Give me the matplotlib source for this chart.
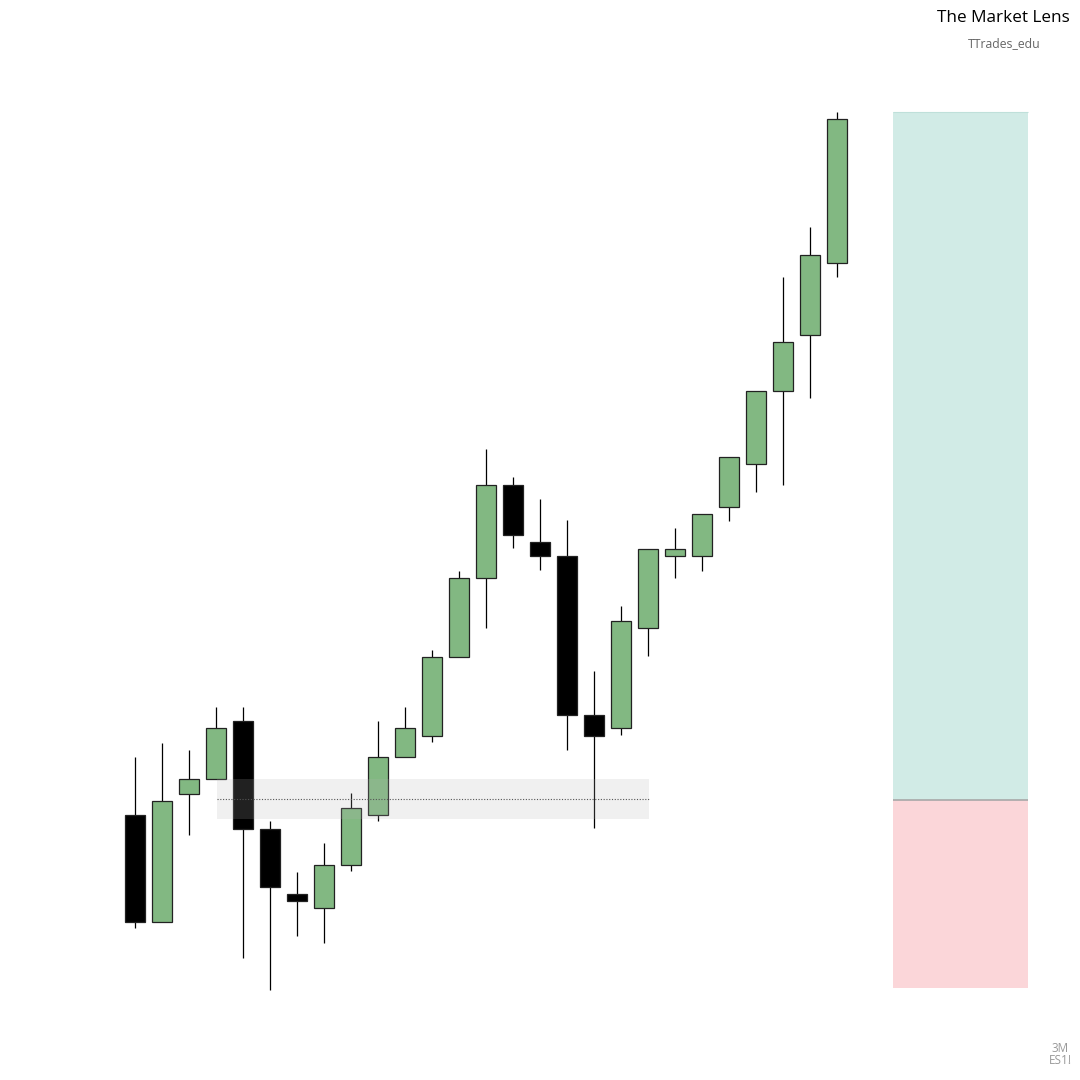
import matplotlib
matplotlib.use("Agg")
import matplotlib.pyplot as plt
from matplotlib.patches import Rectangle

# quarterly candles (price in chart units)
opens  = [265, 158, 286, 301, 359, 251, 186, 172, 215, 265, 323, 344, 423, 502, 595, 538, 524, 365, 352, 452, 524, 524, 573, 616, 689, 745, 817]
highs  = [323, 337, 330, 373, 373, 259, 208, 237, 287, 359, 373, 430, 509, 631, 603, 581, 560, 409, 474, 531, 552, 566, 603, 689, 803, 853, 968]
lows   = [152, 158, 245, 301, 122, 90, 144, 137, 209, 259, 323, 338, 423, 452, 532, 510, 330, 252, 345, 424, 502, 509, 559, 588, 595, 682, 803]
closes = [158, 279, 301, 352, 251, 193, 179, 215, 272, 323, 352, 423, 502, 595, 545, 524, 365, 344, 459, 531, 531, 566, 623, 689, 738, 825, 961]

zone_lo, zone_mid, zone_hi = 261, 281, 301
entry, target, stop = 280, 968, 92

fig = plt.figure(figsize=(10.8, 10.8), dpi=100)
ax = fig.add_axes([0, 0, 1, 1])
ax.set_xlim(-5, 35)
ax.set_ylim(0, 1080)
ax.axis("off")

up_col = "#82b882"
w = 0.74
for i in range(len(opens)):
    o, h, l, c = opens[i], highs[i], lows[i], closes[i]
    col = up_col if c >= o else "black"
    ax.vlines(i, l, h, color="black", lw=0.9, zorder=2)
    ax.add_patch(Rectangle((i - w / 2, min(o, c)), w, abs(c - o), facecolor=col,
                           edgecolor="#222222", lw=0.9, zorder=3))

# zone
ax.add_patch(Rectangle((3.04, zone_lo), 16.0, zone_hi - zone_lo, facecolor="#b3b3b3",
                       alpha=0.19, lw=0, zorder=4))
ax.hlines(zone_mid, 3.04, 19.04, color="#555555", lw=0.8, linestyles=(0, (1, 1.5)), zorder=5)

# position box
ax.add_patch(Rectangle((28.07, entry), 5.0, target - entry, facecolor="#d1ebe6", lw=0, zorder=1))
ax.add_patch(Rectangle((28.07, stop), 5.0, entry - stop, facecolor="#fbd6d9", lw=0, zorder=1))
ax.hlines(entry, 28.07, 33.07, color="#a8a8a8", lw=1.2, zorder=2)
ax.hlines(target, 28.07, 33.07, color="#bfe0da", lw=0.8, zorder=2)

fig.text(1070 / 1080, 1 - 18 / 1080, "The Market Lens", ha="right", va="center",
         fontsize=12.3, family="Open Sans", color="#000000")
fig.text(1040 / 1080, 1 - 44 / 1080, "TTrades_edu", ha="right", va="center",
         fontsize=8.8, family="Open Sans", color="#666666")
fig.text(1060 / 1080, 1 - 1048 / 1080, "3M", ha="center", va="center",
         fontsize=8.5, family="Open Sans", color="#999999")
fig.text(1060 / 1080, 1 - 1061 / 1080, "ES1!", ha="center", va="center",
         fontsize=8.5, family="Open Sans", color="#999999")

fig.savefig("out.png", dpi=100, facecolor="white")
